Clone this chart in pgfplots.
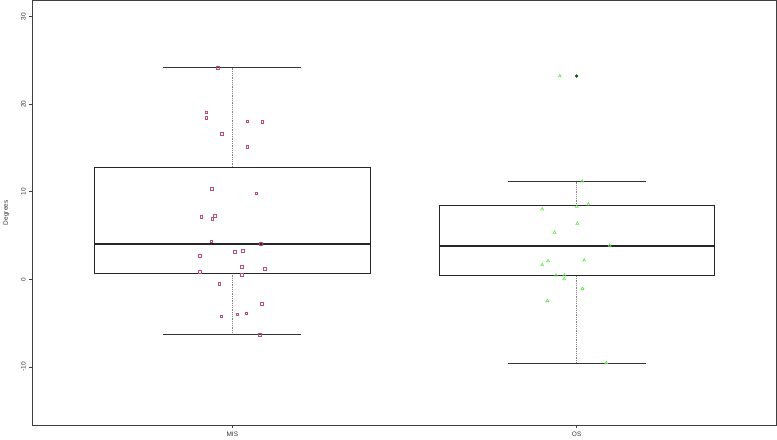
\documentclass[border=0pt]{standalone}
\usepackage{fontspec}
\setmainfont{Liberation Sans}
\usepackage{pgfplots}
\pgfplotsset{compat=1.18}
\usepgfplotslibrary{statistics}
\definecolor{misred}{RGB}{185,80,115}
\definecolor{osgreen}{RGB}{95,230,75}
\definecolor{outgreen}{RGB}{25,80,25}
\begin{document}
\begin{tikzpicture}
\begin{axis}[
    scale only axis,
    width=748pt, height=427pt,
    xmin=0.419, xmax=2.581,
    ymin=-16.67, ymax=31.85,
    axis line style={black!75, line width=0.6pt},
    xtick={1,2}, xticklabels={MIS,OS},
    ytick={-10,0,10,20,30},
    xtick pos=bottom, ytick pos=left,
    tick align=outside,
    major tick length=3pt,
    tick style={black!75, line width=0.5pt},
    tick label style={font=\fontsize{6.5}{7}\selectfont, text=black!80},
    yticklabel style={rotate=90, anchor=south},
    /pgf/number format/assume math mode=true,
    ylabel={Degrees},
    ylabel style={at={(rel axis cs:-0.035,0.5)}, anchor=center,
                  font=\fontsize{6.5}{7}\selectfont, text=black!80},
    boxplot/draw direction=y,
    boxplot/box extend=0.8,
    boxplot/whisker extend=0.4,
    boxplot/every box/.style={draw=black!85, line width=0.6pt},
    boxplot/every median/.style={draw=black!85, line width=1.6pt},
    boxplot/draw/lower whisker/.code={
        \draw[black!50, line width=0.6pt, dash pattern=on 1pt off 0.8pt]
            (boxplot box cs:\pgfplotsboxplotvalue{lower whisker},0.5) --
            (boxplot box cs:\pgfplotsboxplotvalue{lower quartile},0.5);
        \draw[black!80, line width=0.6pt]
            (boxplot whisker cs:\pgfplotsboxplotvalue{lower whisker},0) --
            (boxplot whisker cs:\pgfplotsboxplotvalue{lower whisker},1);
    },
    boxplot/draw/upper whisker/.code={
        \draw[black!50, line width=0.6pt, dash pattern=on 1pt off 0.8pt]
            (boxplot box cs:\pgfplotsboxplotvalue{upper whisker},0.5) --
            (boxplot box cs:\pgfplotsboxplotvalue{upper quartile},0.5);
        \draw[black!80, line width=0.6pt]
            (boxplot whisker cs:\pgfplotsboxplotvalue{upper whisker},0) --
            (boxplot whisker cs:\pgfplotsboxplotvalue{upper whisker},1);
    },
]

% --- boxes ---
\addplot[boxplot prepared={draw position=1,
    lower whisker=-6.33, lower quartile=0.68, median=4.0,
    upper quartile=12.76, upper whisker=24.16}, draw=black!85]
    coordinates {};

\addplot[boxplot prepared={draw position=2,
    lower whisker=-9.55, lower quartile=0.41, median=3.82,
    upper quartile=8.4, upper whisker=11.14}, draw=black!85,
    mark=*, mark size=1.5pt, mark options={draw=outgreen, fill=outgreen}]
    table[row sep=\\, y index=0] {23.2\\};

% --- jittered points MIS ---
\addplot[only marks, mark=square, mark size=1.3pt, misred, line width=0.6pt]
coordinates {
    (0.957,24.16) (0.925,19.05) (0.924,18.44) (1.043,18.03) (1.087,17.95)
    (0.970,16.62) (1.043,15.11) (0.940,10.34) (1.070,9.81) (0.910,7.11)
    (0.949,7.23) (0.942,6.93) (0.939,4.32) (1.083,4.05) (1.008,3.14)
    (1.030,3.22) (0.905,2.65) (1.028,1.40) (1.095,1.21) (0.905,0.83)
    (1.028,0.49) (0.962,-0.50) (1.085,-2.81) (1.041,-3.91) (1.014,-3.98)
    (0.968,-4.25) (1.079,-6.36)
};

% --- jittered points OS ---
\addplot[only marks, mark=triangle, mark size=1.7pt, osgreen, line width=0.6pt]
coordinates {
    (1.951,23.2) (2.016,11.2) (2.034,8.56) (1.900,7.99) (2.000,8.3)
    (2.002,6.36) (1.936,5.34) (2.096,3.86) (1.917,2.08) (2.022,2.16)
    (1.900,1.63) (1.940,0.45) (1.964,0.45) (1.964,0.03) (2.017,-1.07)
    (1.915,-2.47) (2.086,-9.55)
};

\end{axis}
\end{tikzpicture}
\end{document}
